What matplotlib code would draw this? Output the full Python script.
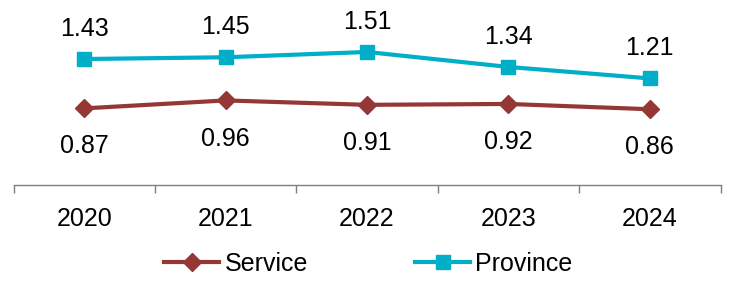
import matplotlib
matplotlib.use("Agg")
import matplotlib.pyplot as plt

years = ["2020", "2021", "2022", "2023", "2024"]
service = [0.87, 0.96, 0.91, 0.92, 0.86]
province = [1.43, 1.45, 1.51, 1.34, 1.21]

plt.rcParams['font.family'] = ['Liberation Sans', 'DejaVu Sans']

fig = plt.figure(figsize=(7.29, 2.83), dpi=100)
ax = fig.add_axes([13.5/729, 1-185/283, 707/729, 185/283])

c_s = '#953735'
c_p = '#00AEC7'
x = list(range(len(years)))
ax.plot(x, service, color=c_s, lw=3, marker='D', ms=9, label='Service')
ax.plot(x, province, color=c_p, lw=3, marker='s', ms=10.5, label='Province')

FS = 18
for xi, v in zip(x, service):
    ax.annotate(f"{v:.2f}", (xi, v), xytext=(0, -32.5), textcoords='offset points',
                ha='center', va='baseline', fontsize=FS)
for xi, v in zip(x, province):
    ax.annotate(f"{v:.2f}", (xi, v), xytext=(0, 16.5), textcoords='offset points',
                ha='center', va='baseline', fontsize=FS)

ax.set_xlim(-0.5, 4.5)
ax.set_ylim(0, 2.1)
for s in ['top', 'right', 'left']:
    ax.spines[s].set_visible(False)
ax.spines['bottom'].set_color('#7f7f7f')
ax.spines['bottom'].set_linewidth(1.0)
ax.set_yticks([])
ax.set_xticks([i - 0.5 for i in range(6)])
ax.set_xticklabels([])
ax.set_xticks(x, minor=True)
ax.set_xticklabels(years, minor=True, fontsize=FS)
ax.tick_params(axis='x', which='major', length=6, color='#7f7f7f', width=1.0, direction='out')
ax.tick_params(axis='x', which='minor', length=0, pad=15.5)

fig.legend(loc='center', bbox_to_anchor=(368.5/729, 1-264/283), ncol=2, frameon=False,
           fontsize=FS, handlelength=2.2, columnspacing=4.3, handletextpad=0.2,
           borderpad=0, borderaxespad=0)

fig.savefig('out.png', dpi=100)
